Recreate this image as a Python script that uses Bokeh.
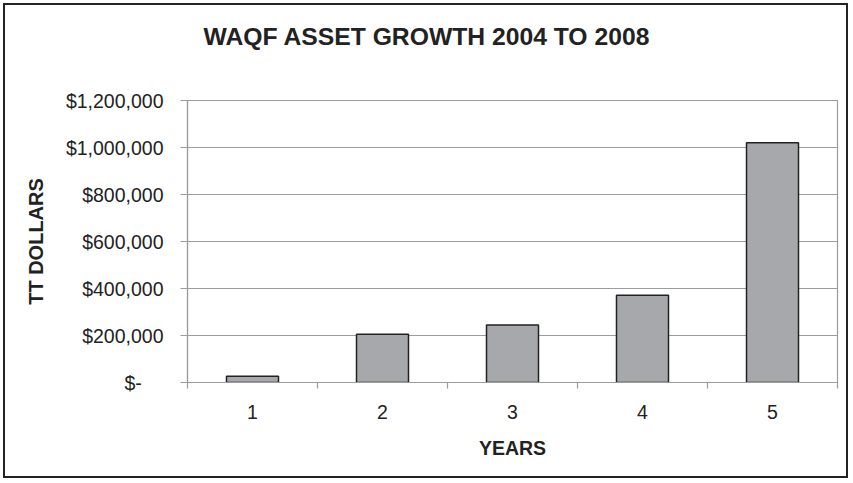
from bokeh.plotting import figure
from bokeh.models import FixedTicker, NumeralTickFormatter, Range1d
from bokeh.embed import file_html
from bokeh.resources import INLINE

years = [1, 2, 3, 4, 5]
year_labels = ["1", "2", "3", "4", "5"]
assets = [27000, 205000, 245000, 371000, 1020000]
y_ticks = [0, 200000, 400000, 600000, 800000, 1000000, 1200000]
title_text = "WAQF ASSET GROWTH 2004 TO 2008"

FONT = "Liberation Sans"
GRID = "#9c9c9c"

p = figure(width=845, height=475, output_backend="svg", toolbar_location=None,
           x_range=Range1d(0.5, 5.5), y_range=Range1d(0, 1200000),
           min_border_left=182, min_border_right=13, min_border_top=95, min_border_bottom=98,
           styles={"border": "2px solid #222222", "margin-left": "3px", "margin-top": "3px"})

p.vbar(x=years, top=assets, width=0.4, fill_color="#a7a8ab", line_color="#222222", line_width=1.5)

# second (blank) line lifts the title away from the plot area
p.title.text = title_text + "\n\u00a0"
p.title.text_font = FONT
p.title.text_font_size = "24.7px"
p.title.text_font_style = "bold"
p.title.text_color = "#222222"
p.title.text_line_height = 1.35
p.title.align = "left"
p.title.offset = 16
p.title.vertical_align = "top"
p.title.standoff = 26

p.outline_line_color = GRID
p.outline_line_width = 1.2
p.xgrid.visible = False
p.ygrid.grid_line_color = GRID
p.ygrid.grid_line_width = 1.2
p.ygrid.ticker = FixedTicker(ticks=y_ticks)

xa = p.xaxis[0]
xa.ticker = FixedTicker(ticks=years, minor_ticks=[0.5, 1.5, 2.5, 3.5, 4.5, 5.5])
xa.major_label_overrides = {y: l for y, l in zip(years, year_labels)}
xa.major_tick_out = 0
xa.major_tick_in = 0
xa.minor_tick_out = 6
xa.minor_tick_in = 0
xa.minor_tick_line_color = GRID
xa.minor_tick_line_width = 1.2
xa.axis_line_color = GRID
xa.axis_line_width = 1.2
xa.major_label_text_font = FONT
xa.major_label_text_font_size = "19.5px"
xa.major_label_text_color = "#222222"
xa.major_label_standoff = 16
xa.axis_label = "YEARS"
xa.axis_label_text_font = FONT
xa.axis_label_text_font_size = "19.5px"
xa.axis_label_text_font_style = "bold"
xa.axis_label_text_color = "#222222"
xa.axis_label_standoff = 15

ya = p.yaxis[0]
ya.ticker = FixedTicker(ticks=y_ticks, minor_ticks=[])
ya.formatter = NumeralTickFormatter(format="$0,0")
ya.major_label_overrides = {0: "$-\u00a0\u00a0\u00a0\u00a0"}
ya.major_tick_out = 7
ya.major_tick_in = 0
ya.minor_tick_out = 0
ya.minor_tick_in = 0
ya.major_tick_line_color = GRID
ya.major_tick_line_width = 1.2
ya.axis_line_color = GRID
ya.axis_line_width = 1.2
ya.major_label_text_font = FONT
ya.major_label_text_font_size = "19.5px"
ya.major_label_text_color = "#222222"
ya.major_label_standoff = 17
ya.axis_label = "TT DOLLARS"
ya.axis_label_text_font = FONT
ya.axis_label_text_font_size = "20px"
ya.axis_label_text_font_style = "bold"
ya.axis_label_text_color = "#222222"
ya.axis_label_standoff = 16

open("out.html", "w").write(file_html(p, INLINE))
